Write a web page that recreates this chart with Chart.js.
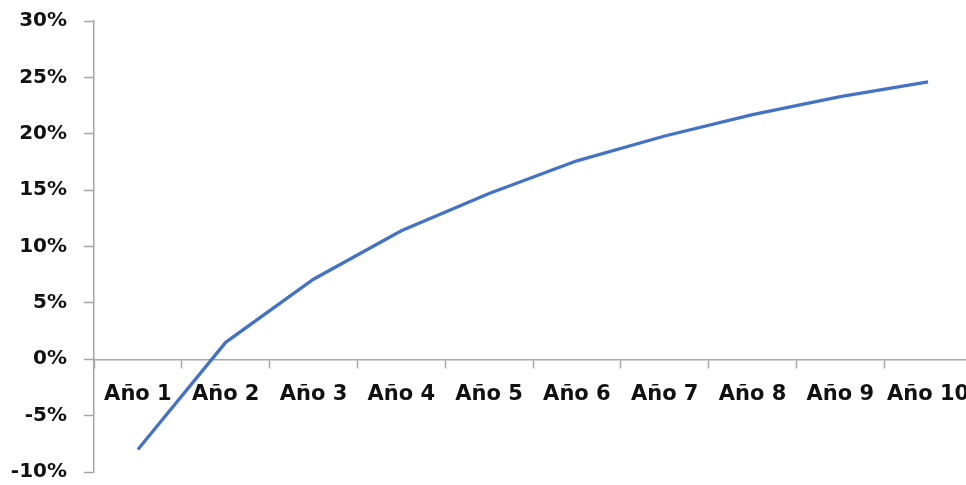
<!DOCTYPE html>
<html>
<head>
<meta charset="utf-8">
<script src="https://cdn.jsdelivr.net/npm/chart.js@4.4.1/dist/chart.umd.min.js"></script>
<style>
  html, body { margin: 0; padding: 0; background: #fff; overflow: hidden; }
  #wrap { width: 976px; height: 485px; }
</style>
</head>
<body>
<div id="wrap"><canvas id="c" width="976" height="485"></canvas></div>
<script>
// Rentabilidad acumulada por año
const categories = ['Año 1', 'Año 2', 'Año 3', 'Año 4', 'Año 5', 'Año 6', 'Año 7', 'Año 8', 'Año 9', 'Año 10'];
const rentabilidad = [-8.0, 1.5, 7.1, 11.4, 14.7, 17.6, 19.8, 21.7, 23.3, 24.6];
const yTicks = [-10, -5, 0, 5, 10, 15, 20, 25, 30];

const axisGrey = '#a6a6a6';

new Chart(document.getElementById('c'), {
  type: 'line',
  data: {
    labels: categories,
    datasets: [{
      data: rentabilidad,
      borderColor: '#4472C4',
      borderWidth: 3.3,
      pointRadius: 0,
      fill: false,
      tension: 0
    }]
  },
  options: {
    responsive: false,
    animation: false,
    devicePixelRatio: 1,
    layout: { padding: { top: 21, bottom: 13, right: 4, left: 0 } },
    plugins: { legend: { display: false }, tooltip: { enabled: false } },
    scales: {
      x: {
        type: 'category',
        position: { y: 0 },
        offset: true,
        afterFit: (scale) => { scale.paddingLeft = 0; scale.paddingRight = 0; },
        grid: {
          offset: true,
          drawOnChartArea: false,
          drawTicks: true,
          tickLength: 8,
          tickColor: axisGrey,
          tickWidth: 1.5
        },
        border: { display: true, color: axisGrey, width: 1.5 },
        ticks: {
          color: '#111',
          font: { family: 'DejaVu Sans', size: 21, weight: 'bold' },
          padding: 15,
          maxRotation: 0,
          autoSkip: false
        }
      },
      y: {
        min: -10,
        max: 30,
        afterBuildTicks: (scale) => { scale.ticks = yTicks.map(v => ({ value: v })); },
        afterFit: (scale) => { scale.width = 94; scale.paddingTop = 0; scale.paddingBottom = 0; },
        grid: {
          drawOnChartArea: false,
          drawTicks: true,
          tickLength: 10,
          tickColor: axisGrey,
          tickWidth: 1.5
        },
        border: { display: true, color: axisGrey, width: 1.5 },
        ticks: {
          color: '#111',
          font: { family: 'DejaVu Sans', size: 20, weight: 'bold' },
          padding: 17,
          callback: (v) => v + '%'
        }
      }
    }
  }
});
</script>
</body>
</html>
